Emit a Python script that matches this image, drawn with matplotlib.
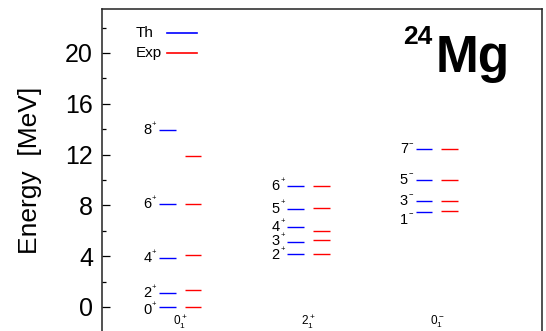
import matplotlib
matplotlib.use("Agg")
import matplotlib.pyplot as plt

plt.rcParams['font.family'] = ['Liberation Sans', 'DejaVu Sans']
plt.rcParams['mathtext.fontset'] = 'custom'
plt.rcParams['mathtext.rm'] = 'Liberation Sans'
plt.rcParams['mathtext.it'] = 'Liberation Sans:italic'
plt.rcParams['mathtext.bf'] = 'Liberation Sans:bold'

# bands (column labels)
bands = [r'$0^+_1$', r'$2^+_1$', r'$0^-_1$']

# spin / parity per band
spins_g = ['0', '2', '4', '6', '8']
spins_gam = ['2', '3', '4', '5', '6']
spins_neg = ['1', '3', '5', '7']
parity = ['+', '+', '\u2212']

# energies in MeV
th_g = [0.0, 1.1, 3.83, 8.08, 13.9]
exp_g = [0.0, 1.37, 4.10, 8.08, 11.85]
th_gam = [4.19, 5.08, 6.26, 7.74, 9.49]
exp_gam = [4.20, 5.24, 6.00, 7.78, 9.50]
th_neg = [7.48, 8.37, 10.02, 12.41]
exp_neg = [7.53, 8.34, 10.00, 12.41]

labels_all = [spins_g, spins_gam, spins_neg]
th_all = [th_g, th_gam, th_neg]
exp_all = [exp_g, exp_gam, exp_neg]

legend_names = ['Th', 'Exp']
legend_colors = ['blue', 'red']

# label nudges for crowded levels (band index, level index) -> dE
nudge = {(0, 0): -0.25, (2, 0): -0.6, (1, 0): -0.12, (1, 1): 0.1}

fig = plt.figure(figsize=(5.46, 3.31), dpi=100)
ax = fig.add_axes([102 / 546, -0.0234, 440 / 546, 0.9976])

for i in range(len(bands)):
    xc = i + 1
    for j, e in enumerate(th_all[i]):
        ax.plot([xc - 0.165, xc - 0.035], [e, e], color='blue', lw=1.0, solid_capstyle='butt')
        ye = e + nudge.get((i, j), 0.0)
        ax.annotate(labels_all[i][j], (xc - 0.225, ye), ha='right', va='center', fontsize=10.5)
        ax.annotate(parity[i], (xc - 0.225, ye), xytext=(0.3, 4.2), textcoords='offset points',
                    ha='left', va='center', fontsize=5.5)
    for e in exp_all[i]:
        ax.plot([xc + 0.035, xc + 0.165], [e, e], color='red', lw=1.0, solid_capstyle='butt')
    ax.text(xc, -1.2, bands[i], ha='center', va='center', fontsize=8.5)

# legend drawn by hand: text on the left, line on the right
for k, (name, col) in enumerate(zip(legend_names, legend_colors)):
    yk = 0.926 - k * 0.061
    ax.text(0.0775, yk, name, transform=ax.transAxes, ha='left', va='center', fontsize=11)
    ax.plot([0.148, 0.216], [yk, yk], transform=ax.transAxes, color=col, lw=1.2)

ax.set_xlim(0.39, 3.82)
ax.set_ylim(-2.5, 23.5)
ax.set_xticks([])
ax.set_yticks([0, 4, 8, 12, 16, 20])
ax.set_yticks([2, 6, 10, 14, 18, 22], minor=True)
ax.tick_params(axis='y', which='major', direction='in', length=5.5, width=0.9, labelsize=18, pad=6.5)
ax.tick_params(axis='y', which='minor', direction='in', length=3, width=0.9)
for s in ax.spines.values():
    s.set_linewidth(1.1)
    s.set_color('#222222')
ax.spines['bottom'].set_visible(False)

fig.text(30 / 546, 1 - 170 / 331, 'Energy  [MeV]', rotation=90, ha='center', va='center', fontsize=19)

fig.text(403 / 546, 1 - 44 / 331, '24', ha='left', va='baseline', fontsize=19, weight='bold')
fig.text(436 / 546, 1 - 72 / 331, 'Mg', ha='left', va='baseline', fontsize=37, weight='bold')

fig.savefig('out.png', dpi=100)
